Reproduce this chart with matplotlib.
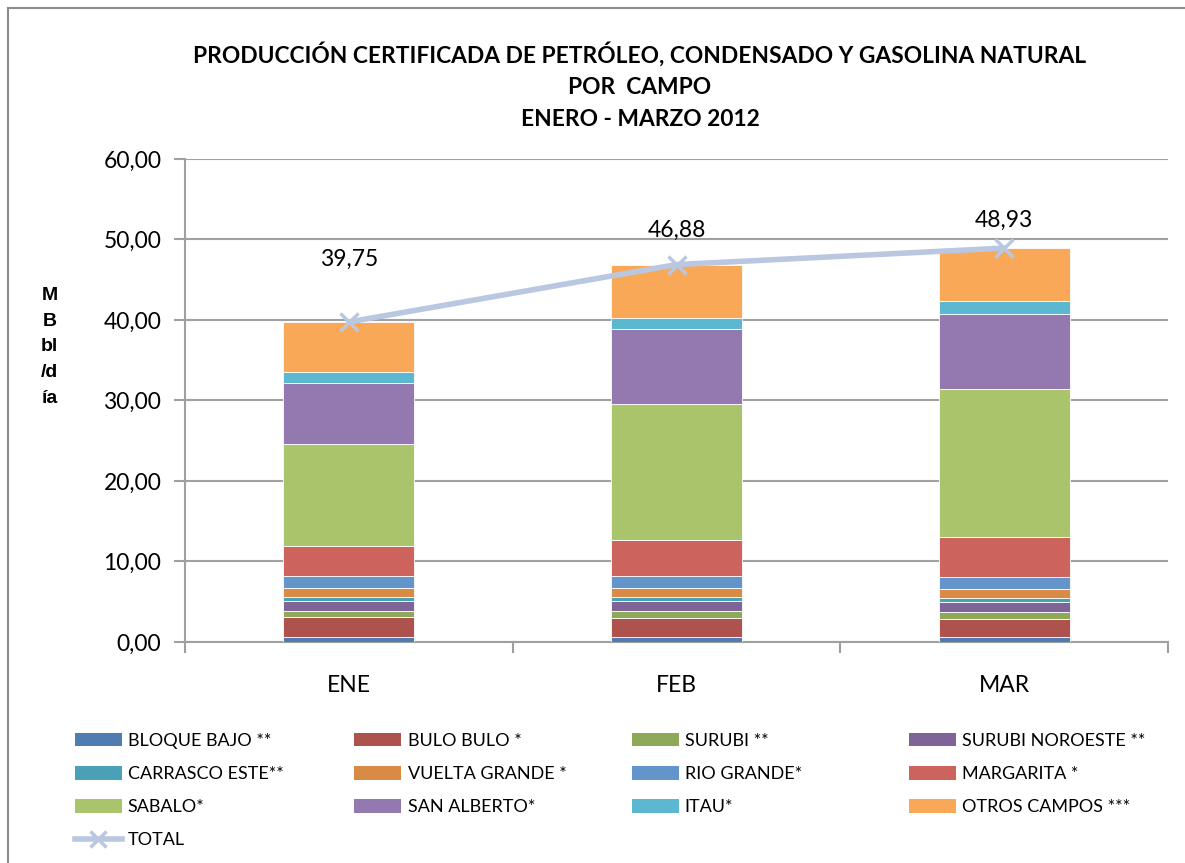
import matplotlib.pyplot as plt
from matplotlib.lines import Line2D
from matplotlib.patches import Patch

meses = ["ENE", "FEB", "MAR"]
campos = ["BLOQUE BAJO **", "BULO BULO *", "SURUBI **", "SURUBI NOROESTE **",
          "CARRASCO ESTE**", "VUELTA GRANDE *", "RIO GRANDE*", "MARGARITA *",
          "SABALO*", "SAN ALBERTO*", "ITAU*", "OTROS CAMPOS ***"]
bloque_bajo = [0.66, 0.62, 0.58]
bulo_bulo = [2.41, 2.40, 2.32]
surubi = [0.78, 0.83, 0.87]
surubi_noroeste = [1.20, 1.20, 1.16]
carrasco_este = [0.58, 0.58, 0.49]
vuelta_grande = [1.04, 1.04, 1.12]
rio_grande = [1.57, 1.53, 1.57]
margarita = [3.73, 4.47, 4.89]
sabalo = [12.63, 16.90, 18.39]
san_alberto = [7.53, 9.27, 9.31]
itau = [1.45, 1.45, 1.60]
otros = [6.17, 6.59, 6.63]
total = [39.75, 46.88, 48.93]
colores = ["#4F7DB1", "#AE524E", "#8FA95A", "#7E6497", "#4AA0B6", "#D98B45",
           "#6395CB", "#CC645D", "#AAC46C", "#9379AF", "#5BB8D0", "#F9A857"]

series = [bloque_bajo, bulo_bulo, surubi, surubi_noroeste, carrasco_este,
          vuelta_grande, rio_grande, margarita, sabalo, san_alberto, itau, otros]

plt.rcParams['font.family'] = ['Lato', 'DejaVu Sans']
fig = plt.figure(figsize=(11.85, 8.63), dpi=100)
ax = fig.add_axes([0.1561, 0.2561, 0.8296, 0.5597])

x = range(len(meses))
base = [0, 0, 0]
handles = []
for nombre, vals, c in zip(campos, series, colores):
    ax.bar(x, vals, width=0.4, bottom=base, color=c, edgecolor='white', linewidth=0.6, zorder=3)
    base = [b + v for b, v in zip(base, vals)]
    handles.append(Patch(facecolor=c, edgecolor='none'))

ax.plot(x, total, color='#B9C8E0', linewidth=4, marker='x', markersize=13,
        markeredgewidth=2.5, zorder=4)
offsets = [45, 25, 20]
for i, t in enumerate(total):
    ax.annotate(f"{t:.2f}".replace('.', ','), (i, t), xytext=(0, offsets[i]),
                textcoords='offset points', ha='center', va='center', fontsize=16.5)

ax.set_ylim(0, 60)
ax.set_xlim(-0.5, 2.5)
ax.set_yticks(range(0, 61, 10))
ax.set_yticklabels([f"{v},00" for v in range(0, 61, 10)], fontsize=16.5)
ax.set_xticks(list(x))
ax.set_xticklabels(meses, fontsize=16.5)
ax.set_xticks([-0.5, 0.5, 1.5, 2.5], minor=True)
ax.tick_params(axis='x', which='major', length=0, pad=24)
ax.tick_params(axis='x', which='minor', length=8, width=1.5, color='#a0a0a0')
ax.tick_params(axis='y', length=8, width=1.5, color='#a0a0a0', pad=9)
ax.yaxis.grid(True, color='#a0a0a0', linewidth=1.5, zorder=0)
for s in ['top', 'right']:
    ax.spines[s].set_visible(False)
for s in ['left', 'bottom']:
    ax.spines[s].set_color('#a0a0a0')
    ax.spines[s].set_linewidth(1.5)

fig.text(0.540, 0.9003, "PRODUCCIÓN CERTIFICADA DE PETRÓLEO, CONDENSADO Y GASOLINA NATURAL\nPOR  CAMPO\nENERO - MARZO 2012",
         ha='center', va='center', fontsize=16.4, fontweight='bold', linespacing=1.62)
fig.text(0.042, 0.598, "M\nB\nbl\n/d\nía", ha='center', va='center', fontsize=14,
         fontweight='bold', family='Liberation Sans', linespacing=1.66)

# legend laid out in 4 columns, row-major like the original
tot_handle = Line2D([], [], color='#B9C8E0', linewidth=4, marker='x', markersize=11, markeredgewidth=2.5)
col_x = [0.063, 0.299, 0.533, 0.767]
for j in range(4):
    hs = [handles[k] for k in range(j, 12, 4)]
    ls = [campos[k] for k in range(j, 12, 4)]
    if j == 0:
        hs.append(tot_handle)
        ls.append("TOTAL")
    fig.legend(hs, ls, loc='upper left', bbox_to_anchor=(col_x[j], 0.151), frameon=False,
               fontsize=13, handlelength=2.6, handleheight=0.8, handletextpad=0.35,
               labelspacing=0.94, borderpad=0, borderaxespad=0)

fig.add_artist(Line2D([0.0068, 0.0068], [0, 0.9907], color='#8c8c8c', linewidth=1.5))
fig.add_artist(Line2D([0.0068, 1], [0.9907, 0.9907], color='#8c8c8c', linewidth=1.5))

fig.savefig('out.png', dpi=100)
